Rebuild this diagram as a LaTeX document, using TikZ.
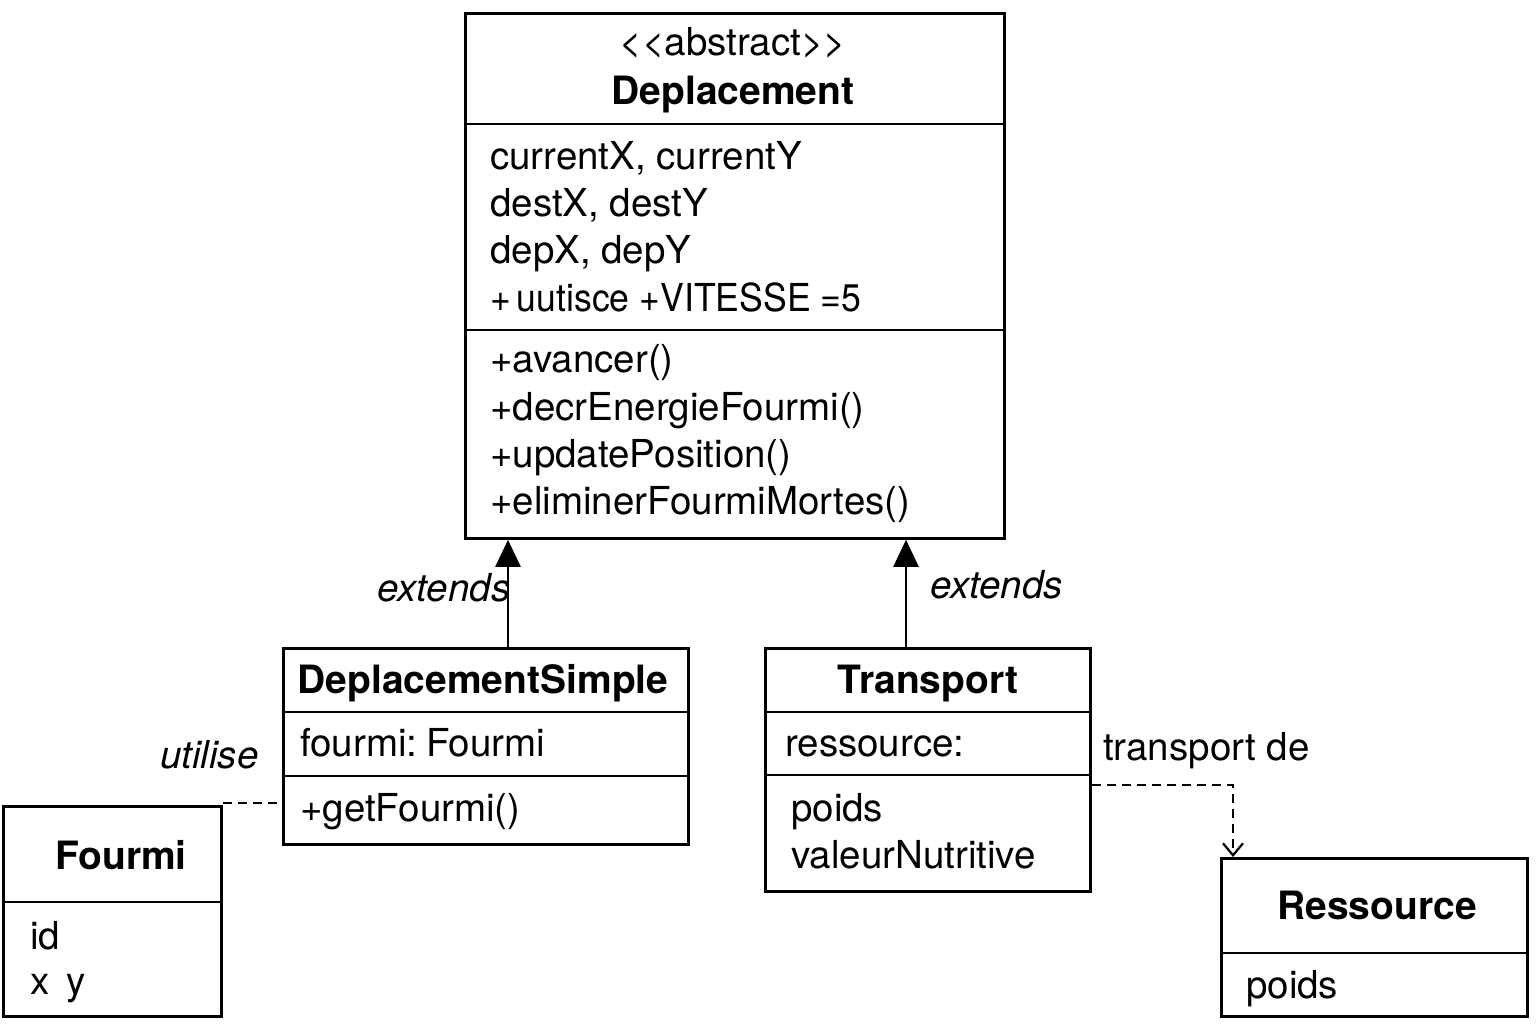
\documentclass[tikz,border=0pt]{standalone}
\usepackage{fontspec}
\setmainfont{TeX Gyre Heros}
\usetikzlibrary{arrows.meta}
\begin{document}
\begin{tikzpicture}[x=1pt,y=-1pt,
  box/.style={draw=black,line width=2.8pt,rectangle,anchor=north west,inner sep=0pt},
  txt/.style={inner sep=0pt,anchor=base west,font=\fontsize{38.5}{44}\selectfont},
  ttl/.style={inner sep=0pt,anchor=base,font=\fontsize{39}{44}\selectfont\bfseries},
  lbl/.style={inner sep=0pt,anchor=base west,font=\fontsize{38.5}{44}\selectfont\itshape},
  divider/.style={line width=2.8pt},
  ext/.style={line width=2.6pt,-{Triangle[width=25pt,length=27pt]}},
  dep/.style={line width=2.8pt,dash pattern=on 9pt off 6pt},
]
\useasboundingbox (0,0) rectangle (1536,1024);
\fill[white] (0,0) rectangle (1536,1024);

% Deplacement
\node[box,minimum width=539pt,minimum height=525pt] (dep) at (464,12) {};
\draw[divider] (dep.west |- 0,124) -- (dep.east |- 0,124);
\draw[divider] (dep.west |- 0,330) -- (dep.east |- 0,330);
\node[txt,anchor=base] (depst) at (733,56) {<{}<abstract>{}>};
\node[ttl] (depn) at (733,105) {Deplacement};
\node[txt] (a1) at (490,170) {currentX, currentY};
\node[txt] (a2) at (490,217) {destX, destY};
\node[txt] (a3) at (490,264) {depX, depY};
\node[txt] (a4) at (490,311) {\scalebox{0.925}[1]{+\,uutisce +VITESSE =5}};
\node[txt] (m1) at (490,372) {+avancer()};
\node[txt] (m2) at (490,420) {+decrEnergieFourmi()};
\node[txt] (m3) at (490,467) {+updatePosition()};
\node[txt] (m4) at (490,514) {+eliminerFourmiMortes()};

% DeplacementSimple
\node[box,minimum width=405pt,minimum height=196pt] (ds) at (282,647) {};
\draw[divider] (ds.west |- 0,712) -- (ds.east |- 0,712);
\draw[divider] (ds.west |- 0,776) -- (ds.east |- 0,776);
\node[ttl] (dsn) at (483,693) {DeplacementSimple};
\node[txt] (ds1) at (300,756) {fourmi:\kern-2pt\ Fourmi};
\node[txt] (ds2) at (300,821) {+getFourmi()};

% Transport
\node[box,minimum width=325pt,minimum height=243pt] (tr) at (764,647) {};
\draw[divider] (tr.west |- 0,712) -- (tr.east |- 0,712);
\draw[divider] (tr.west |- 0,775) -- (tr.east |- 0,775);
\node[ttl] (trn) at (928,693) {Transport};
\node[txt] (tr1) at (785,756) {ressource:};
\node[txt] (tr2) at (791,821) {poids};
\node[txt] (tr3) at (791,868) {valeurNutritive};

% Fourmi
\node[box,minimum width=218pt,minimum height=210pt] (fo) at (2,805) {};
\draw[divider] (fo.west |- 0,902) -- (fo.east |- 0,902);
\node[ttl] (fon) at (121,869) {Fourmi};
\node[txt] (fo1) at (30,949) {id};
\node[txt] (fo2) at (30,994) {x\, y};

% Ressource
\node[box,minimum width=306pt,minimum height=158pt] (re) at (1220,857) {};
\draw[divider] (re.west |- 0,953) -- (re.east |- 0,953);
\node[ttl] (ren) at (1377,919) {Ressource};
\node[txt] (re1) at (1246,998) {poids};

% extends arrows
\draw[ext] (ds.north -| 508,0) -- (dep.south -| 508,0);
\draw[ext] (tr.north -| 906,0) -- (dep.south -| 906,0);
\node[lbl,anchor=base] (l1) at (444,601) {extends};
\node[lbl] (l2) at (930,598) {extends};

% utilise
\draw[dep] (fo.east |- 0,803) -- (ds.west |- 0,803);
\node[lbl] (l3) at (160,768) {utilise};

% transport de
\coordinate (bend) at (1233,785);
\draw[dep,-{Straight Barb[length=12pt,width=20pt,line width=2.2pt]}] (tr.east |- bend) -- (bend) -- (re.north -| bend);
\node[txt] (l4) at (1103,760) {transport de};
\end{tikzpicture}
\end{document}
